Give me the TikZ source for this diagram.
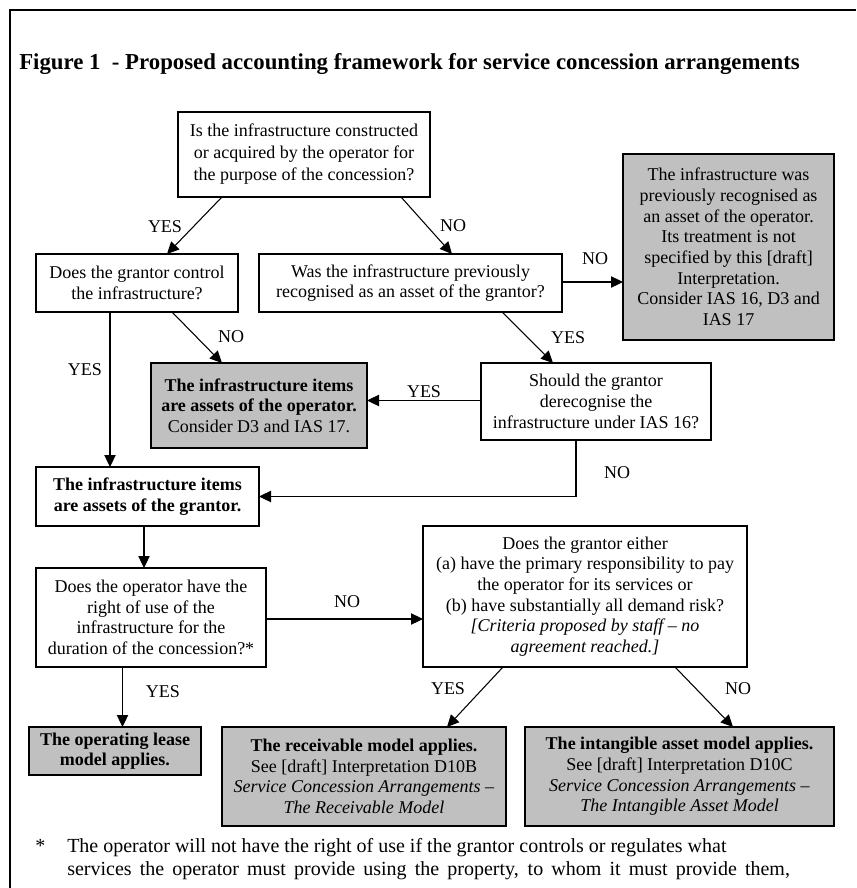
\documentclass[tikz,border=0pt]{standalone}
\usepackage{fontspec}
\setmainfont{Liberation Serif}
\usetikzlibrary{arrows.meta}
\definecolor{boxgrey}{RGB}{192,192,192}
\begin{document}
\begin{tikzpicture}[x=0.75pt,y=-0.75pt,
  qbox/.style={draw=black, line width=0.8pt, fill=white, inner sep=0pt, outer sep=0pt, align=center,
    font=\fontsize{13.5}{15.5}\selectfont},
  gbox/.style={qbox, fill=boxgrey, line width=1.1pt},
  arr/.style={line width=0.8pt, -{Triangle[length=9pt,width=8.5pt]}},
  lbl/.style={inner sep=0pt, font=\fontsize{13.5}{15.5}\selectfont},
  fnote/.style={inner sep=0pt, anchor=base west, font=\fontsize{15}{17}\selectfont}
]
\useasboundingbox (0,0) rectangle (856,888);
\fill[white] (0,0) rectangle (856,888);
\draw[line width=1.2pt] (10,888) -- (10,10) -- (856,10);

\node[anchor=base west, inner sep=0pt, font=\fontsize{17.1}{20}\selectfont\bfseries] (title) at (19,70)
  {Figure 1\ \ - Proposed accounting framework for service concession arrangements};

\node[qbox, minimum width=189pt, minimum height=63.75pt, font=\fontsize{13.5}{16.5}\selectfont] (q1) at (304,154.5)
  {Is the infrastructure constructed\\or acquired by the operator for\\the purpose of the concession?};
\node[qbox, minimum width=151.5pt, minimum height=43.5pt] (q2) at (137,283)
  {Does the grantor control\\the infrastructure?};
\node[qbox, minimum width=227.25pt, minimum height=43.5pt] (q3) at (410.5,283)
  {Was the infrastructure previously\\recognised as an asset of the grantor?};
\node[gbox, minimum width=158.25pt, minimum height=139.5pt] (g1) at (728.5,247)
  {The infrastructure was\\previously recognised as\\an asset of the operator.\\Its treatment is not\\specified by this [draft]\\Interpretation.\\Consider IAS 16, D3 and\\IAS 17};
\node[gbox, minimum width=162pt, minimum height=63.75pt] (g2) at (259,405.5)
  {\textbf{The infrastructure items}\\\textbf{are assets of the operator.}\\Consider D3 and IAS 17.};
\node[qbox, minimum width=172.5pt, minimum height=57.75pt] (q4) at (596,401.5)
  {Should the grantor\\derecognise the\\infrastructure under IAS 16?};
\node[qbox, minimum width=167.25pt, minimum height=44.25pt] (b) at (147.5,496.5)
  {\textbf{The infrastructure items}\\\textbf{are assets of the grantor.}};
\node[qbox, minimum width=172.5pt, minimum height=74.25pt] (q5) at (151,617.5)
  {Does the operator have the\\right of use of the\\infrastructure for the\\duration of the concession?*};
\node[qbox, minimum width=243pt, minimum height=105.75pt] (q6) at (585,596.5)
  {Does the grantor either\\(a) have the primary responsibility to pay\\the operator for its services or\\(b) have substantially all demand risk?\\\textit{[Criteria proposed by staff – no}\\\textit{agreement reached.]}};
\node[gbox, minimum width=129pt, minimum height=36pt] (g3) at (115,751)
  {\textbf{The operating lease}\\\textbf{model applies.}};
\node[gbox, minimum width=213pt, minimum height=74.25pt] (g4) at (364,776.5)
  {\textbf{The receivable model applies.}\\See [draft] Interpretation D10B\\\textit{Service Concession Arrangements –}\\\textit{The Receivable Model}};
\node[gbox, minimum width=231.75pt, minimum height=74.25pt] (g5) at (679.5,776.5)
  {\textbf{The intangible asset model applies.}\\See [draft] Interpretation D10C\\\textit{Service Concession Arrangements –}\\\textit{The Intangible Asset Model}};

% connectors
\draw[arr] (q1.south -| 222,0) -- (q2.north -| 167,0);
\draw[arr] (q1.south -| 401,0) -- (q3.north -| 452,0);
\draw[arr] (q3.east |- 0,282) -- (g1.west |- 0,282);
\draw[arr] (q2.south -| 172,0) -- (g2.north -| 222,0);
\draw[arr] (q2.south -| 110,0) -- (b.north -| 110,0);
\draw[arr] (q3.south -| 502,0) -- (q4.north -| 553,0);
\draw[arr] (q4.west |- 0,400.5) -- (g2.east |- 0,400.5);
\draw[arr] (q4.south -| 576,0) |- (b.east);
\draw[arr] (b.south -| 144,0) -- (q5.north -| 144,0);
\draw[arr] (q5.east |- 0,619) -- (q6.west |- 0,619);
\draw[arr] (q5.south -| 122.5,0) -- (g3.north -| 122.5,0);
\draw[arr] (q6.south -| 503,0) -- (g4.north -| 447,0);
\draw[arr] (q6.south -| 675,0) -- (g5.north -| 733,0);

% labels
\node[lbl] (l1) at (165,227) {YES};
\node[lbl] (l2) at (453,226) {NO};
\node[lbl] (l3) at (595,259) {NO};
\node[lbl] (l4) at (231,337) {NO};
\node[lbl] (l5) at (85,370) {YES};
\node[lbl] (l6) at (568,338) {YES};
\node[lbl] (l7) at (424,392) {YES};
\node[lbl] (l8) at (617,473) {NO};
\node[lbl] (l9) at (347,602) {NO};
\node[lbl] (l10) at (163,692) {YES};
\node[lbl] (l11) at (448,689) {YES};
\node[lbl] (l12) at (738,689) {NO};

% footnote
\node[fnote] (star) at (35,852) {*};
\node[fnote] (fn1) at (67,852) {The operator will not have the right of use if the grantor controls or regulates what};
\node[fnote] (fn2) at (67,875) {\makebox[542pt][s]{services the operator must provide using the property, to whom it must provide them,}};
\end{tikzpicture}
\end{document}
